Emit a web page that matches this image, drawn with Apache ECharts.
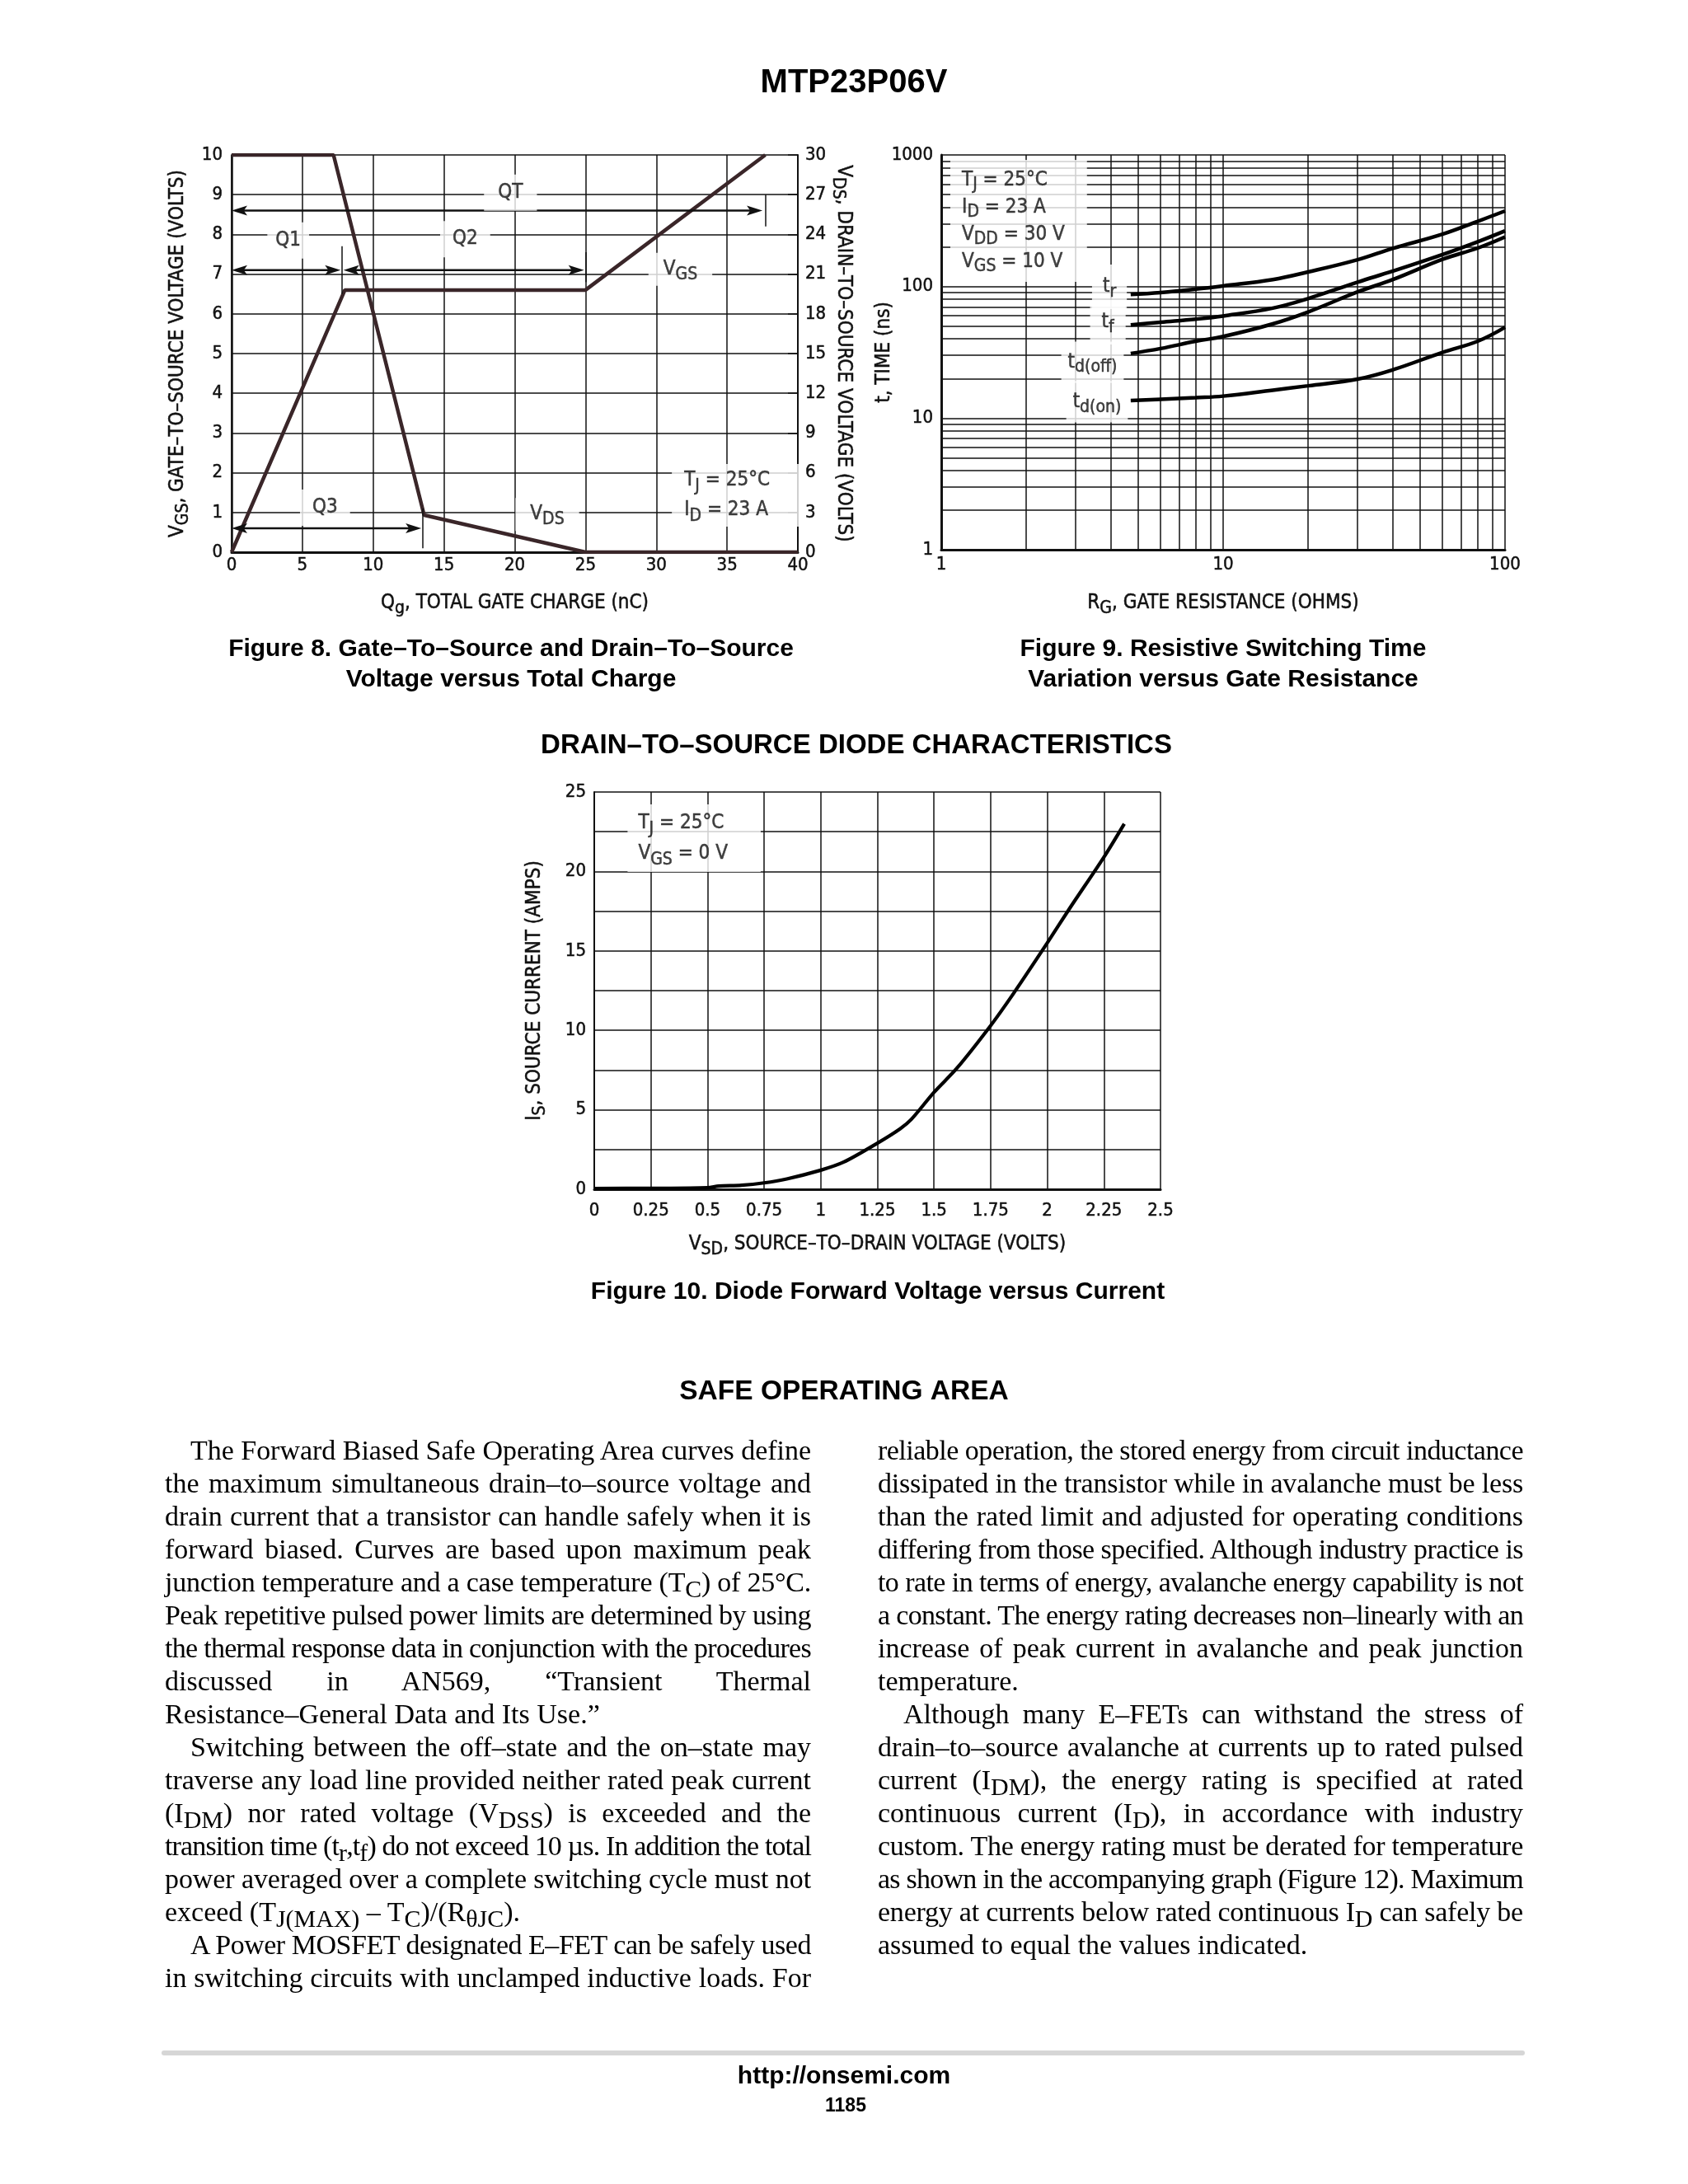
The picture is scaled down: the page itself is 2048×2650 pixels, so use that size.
<!DOCTYPE html>
<html><head><meta charset="utf-8">
<script src="https://cdn.jsdelivr.net/npm/echarts@6/dist/echarts.min.js"></script>
<style>
html,body{margin:0;padding:0;background:#fff;}
#chart{position:absolute;left:0;top:0;width:2048px;height:2650px;}
.col{position:absolute;font-family:"Liberation Serif","Times New Roman",serif;font-size:34px;color:#000;}
.ln{height:40px;line-height:40px;white-space:nowrap;}
.ln.ind{padding-left:31px;}
.sub{font-size:0.88em;vertical-align:-0.22em;line-height:0;}
</style></head><body>
<div id="chart"></div>
<div class="col" id="colL" style="left:200px;top:1740px;width:784px;"></div>
<div class="col" id="colR" style="left:1065px;top:1740px;width:783px;"></div>
<script>
// ---------------- DATA ----------------
// Figure 8 : Qg (nC) vs VGS (V, left axis) and VDS (V, right axis)
const fig8VGS = [[0, 0], [8.0, 6.6], [25.0, 6.6], [37.7, 10]];
const fig8VDS = [[0, 30], [7.2, 30], [13.6, 2.8], [25.0, 0], [40, 0]];
// dimension arrows [from nC, to nC, at VGS]
const fig8Arrows = [[0, 37.5, 8.6], [0, 7.7, 7.1], [7.9, 24.9, 7.1], [0, 13.4, 0.6]];
// end ticks [at nC, from VGS, to VGS]
const fig8Ticks = [[37.7, 8.2, 9.0], [7.8, 6.5, 7.7], [25.0, 6.8, 7.55], [13.5, 0.1, 1.1]];
const fig8Labels = [
  {at: [19.7, 9.05], text: '{n|QT}'},
  {at: [4.0, 7.85], text: '{n|Q1}'},
  {at: [16.5, 7.88], text: '{n|Q2}'},
  {at: [6.6, 1.12], text: '{n|Q3}'},
  {at: [31.7, 7.12], text: '{n|V}{s|GS}'},
  {at: [22.3, 0.95], text: '{n|V}{s|DS}'}
];
const fig8Cond = {at: [31.1, 1.43], lines: ['{n|T}{s|J}{n| = 25°C}', '{n|I}{s|D}{n| = 23 A}']};

// Figure 9 : RG (ohms) vs t (ns)
const fig9Tr    = [[4.7, 87], [6, 90], [8, 95.5], [10, 101], [15, 113], [20, 129], [30, 160], [40, 195], [60, 250], [80, 313], [100, 375]];
const fig9Tf    = [[4.7, 51], [6, 53.5], [8, 56.5], [10, 59.7], [15, 68.5], [20, 81], [30, 108], [40, 131], [60, 175], [80, 219], [100, 265]];
const fig9Tdoff = [[4.7, 31], [6, 33.8], [8, 38.4], [10, 41.7], [15, 52], [20, 64], [30, 91], [40, 113], [60, 161], [80, 196], [100, 238]];
const fig9Tdon  = [[4.7, 13.6], [6, 13.9], [8, 14.3], [10, 14.7], [15, 16.3], [20, 17.6], [30, 19.8], [40, 23.3], [60, 31.6], [80, 38.4], [100, 49]];
const fig9MinorR = [2, 3, 4, 5, 6, 7, 8, 9, 20, 30, 40, 50, 60, 70, 80, 90];
const fig9MinorT = [2, 3, 4, 5, 6, 7, 8, 9, 20, 30, 40, 50, 60, 70, 80, 90, 200, 300, 400, 500, 600, 700, 800, 900];
const fig9Labels = [
  {at: [3.95, 99.6], text: '{n|t}{s|r}'},
  {at: [3.9, 53.6], text: '{n|t}{s|f}'},
  {at: [3.44, 26.6], text: '{n|t}{s|d(off)}'},
  {at: [3.57, 13.3], text: '{n|t}{s|d(on)}'}
];
const fig9Cond = {at: [1.077, 315.6], lines: ['{n|T}{s|J}{n| = 25°C}', '{n|I}{s|D}{n| = 23 A}', '{n|V}{s|DD}{n| = 30 V}', '{n|V}{s|GS}{n| = 10 V}']};

// Figure 10 : VSD (V) vs IS (A)
const fig10Curve = [[0, 0.05], [0.25, 0.06], [0.5, 0.1], [0.55, 0.2], [0.65, 0.25], [0.75, 0.4], [0.85, 0.65], [1.0, 1.2], [1.1, 1.7], [1.25, 2.9], [1.35, 3.8], [1.4, 4.4], [1.5, 6.1], [1.6, 7.6], [1.75, 10.3], [1.85, 12.3], [2.0, 15.5], [2.1, 17.7], [2.25, 20.9], [2.34, 23.0]];
const fig10Cond = {at: [0.147, 22.1], lines: ['{n|T}{s|J}{n| = 25°C}', '{n|V}{s|GS}{n| = 0 V}']};

// Body text
const textLeft = [
  {i: 1, t: 'The Forward Biased Safe Operating Area curves define'},
  {t: 'the maximum simultaneous drain–to–source voltage and'},
  {t: 'drain current that a transistor can handle safely when it is'},
  {t: 'forward biased. Curves are based upon maximum peak'},
  {t: 'junction temperature and a case temperature (T<span class="sub">C</span>) of 25°C.'},
  {t: 'Peak repetitive pulsed power limits are determined by using'},
  {t: 'the thermal response data in conjunction with the procedures'},
  {t: 'discussed in AN569, “Transient Thermal'},
  {e: 1, t: 'Resistance–General Data and Its Use.”'},
  {i: 1, t: 'Switching between the off–state and the on–state may'},
  {t: 'traverse any load line provided neither rated peak current'},
  {t: '(I<span class="sub">DM</span>) nor rated voltage (V<span class="sub">DSS</span>) is exceeded and the'},
  {t: 'transition time (t<span class="sub">r</span>,t<span class="sub">f</span>) do not exceed 10 µs. In addition the total'},
  {t: 'power averaged over a complete switching cycle must not'},
  {e: 1, t: 'exceed (T<span class="sub">J(MAX)</span> – T<span class="sub">C</span>)/(R<span class="sub">θJC</span>).'},
  {i: 1, t: 'A Power MOSFET designated E–FET can be safely used'},
  {t: 'in switching circuits with unclamped inductive loads. For'}
];
const textRight = [
  {t: 'reliable operation, the stored energy from circuit inductance'},
  {t: 'dissipated in the transistor while in avalanche must be less'},
  {t: 'than the rated limit and adjusted for operating conditions'},
  {t: 'differing from those specified. Although industry practice is'},
  {t: 'to rate in terms of energy, avalanche energy capability is not'},
  {t: 'a constant. The energy rating decreases non–linearly with an'},
  {t: 'increase of peak current in avalanche and peak junction'},
  {e: 1, t: 'temperature.'},
  {i: 1, t: 'Although many E–FETs can withstand the stress of'},
  {t: 'drain–to–source avalanche at currents up to rated pulsed'},
  {t: 'current (I<span class="sub">DM</span>), the energy rating is specified at rated'},
  {t: 'continuous current (I<span class="sub">D</span>), in accordance with industry'},
  {t: 'custom. The energy rating must be derated for temperature'},
  {t: 'as shown in the accompanying graph (Figure 12). Maximum'},
  {t: 'energy at currents below rated continuous I<span class="sub">D</span> can safely be'},
  {e: 1, t: 'assumed to equal the values indicated.'}
];

// ---------------- STYLE / LAYOUT ----------------
const INK = '#111';
const CURVE8 = '#3a2629';
const NARROW = '"Liberation Sans Narrow","Arial Narrow","DejaVu Sans Condensed",sans-serif';
const BOLD = '"Liberation Sans",Arial,Helvetica,sans-serif';
const TB = {textBorderColor: INK, textBorderWidth: 0.5};

function rich(fs, L, off) {
  return {
    n: Object.assign({fontFamily: NARROW, fontSize: fs, lineHeight: L, color: INK}, TB),
    s: Object.assign({fontFamily: NARROW, fontSize: Math.round(fs * 0.88), lineHeight: L - 2 * off, verticalAlign: 'bottom', color: INK}, TB)
  };
}
const R_NAME = rich(24, 34, 6);
function nameStyle() { return Object.assign({rich: R_NAME, fontFamily: NARROW, fontSize: 24, color: INK}, TB); }
const tickLabel = (m, extra) => Object.assign({fontFamily: NARROW, fontSize: 22, color: INK, margin: m}, TB, extra || {});
const grid = (w) => ({show: true, lineStyle: {color: INK, width: w}});

function labelSeries(xi, yi, items, pads, R) {
  return {
    type: 'scatter', xAxisIndex: xi, yAxisIndex: yi, symbolSize: 1, silent: true, z: 20,
    itemStyle: {color: 'rgba(0,0,0,0)'},
    data: items.map((it, k) => ({
      value: it.at,
      label: {show: true, position: 'inside', formatter: it.text, align: 'center', verticalAlign: 'middle',
        backgroundColor: '#fff', padding: pads[k], rich: R, fontFamily: NARROW, fontSize: 24, color: INK}
    }))
  };
}
function condSeries(xi, yi, cond, pad, R) {
  return {
    type: 'scatter', xAxisIndex: xi, yAxisIndex: yi, symbolSize: 1, silent: true, z: 20,
    itemStyle: {color: 'rgba(0,0,0,0)'},
    data: [{value: cond.at, label: {show: true, position: 'inside', formatter: cond.lines.join('\n'),
      align: 'left', verticalAlign: 'middle', backgroundColor: '#fff', padding: pad, rich: R,
      fontFamily: NARROW, fontSize: 24, color: INK}}]
  };
}

const arrowSeries = {
  type: 'custom', xAxisIndex: 0, yAxisIndex: 0, z: 8, silent: true,
  encode: {x: [0, 1], y: 2},
  data: fig8Arrows,
  renderItem: function (params, api) {
    const p1 = api.coord([api.value(0), api.value(2)]);
    const p2 = api.coord([api.value(1), api.value(2)]);
    const L = 19, H = 6;
    return {type: 'group', children: [
      {type: 'line', shape: {x1: p1[0] + L * 0.7, y1: p1[1], x2: p2[0] - L * 0.7, y2: p2[1]}, style: {stroke: INK, lineWidth: 2.5}},
      {type: 'polygon', shape: {points: [[p1[0], p1[1]], [p1[0] + L, p1[1] - H], [p1[0] + L * 0.78, p1[1]], [p1[0] + L, p1[1] + H]]}, style: {fill: INK}},
      {type: 'polygon', shape: {points: [[p2[0], p2[1]], [p2[0] - L, p2[1] - H], [p2[0] - L * 0.78, p2[1]], [p2[0] - L, p2[1] + H]]}, style: {fill: INK}}
    ]};
  }
};
const tickSeries = {
  type: 'lines', coordinateSystem: 'cartesian2d', xAxisIndex: 0, yAxisIndex: 0, z: 8, silent: true,
  symbol: ['none', 'none'], lineStyle: {color: INK, width: 1.5, opacity: 1},
  data: fig8Ticks.map(t => ({coords: [[t[0], t[1]], [t[0], t[2]]]}))
};

const pageTexts = [
  ['MTP23P06V', 1036, 101, 40],
  ['Figure 8. Gate–To–Source and Drain–To–Source', 620, 788, 30],
  ['Voltage versus Total Charge', 620, 825, 30],
  ['Figure 9. Resistive Switching Time', 1484, 788, 30],
  ['Variation versus Gate Resistance', 1484, 825, 30],
  ['DRAIN–TO–SOURCE DIODE CHARACTERISTICS', 1039, 905, 33],
  ['Figure 10. Diode Forward Voltage versus Current', 1065, 1568, 30],
  ['SAFE OPERATING AREA', 1024, 1689, 33.5],
  ['http://onsemi.com', 1024, 2520, 30],
  ['1185', 1026, 2556, 23]
];

const curve9 = (d) => ({type: 'line', xAxisIndex: 1, yAxisIndex: 2, data: d, symbol: 'none', smooth: 0.4,
  z: 6, lineStyle: {color: '#000', width: 4.5}, silent: true});

const chart = echarts.init(document.getElementById('chart'), null, {renderer: 'canvas', width: 2048, height: 2650});
const option = {
  animation: false,
  backgroundColor: '#fff',
  textStyle: {fontFamily: NARROW, color: INK},
  grid: [
    {left: 281, top: 188, width: 687, height: 482},
    {left: 1142, top: 188, width: 684, height: 479},
    {left: 721, top: 961, width: 687, height: 482}
  ],
  xAxis: [
    {gridIndex: 0, type: 'value', min: 0, max: 40, interval: 5,
      axisLine: {onZero: false, lineStyle: {color: INK, width: 3}}, axisTick: {show: false},
      axisLabel: tickLabel(5), splitLine: grid(1.5),
      name: '{n|Q}{s|g}{n|, TOTAL GATE CHARGE (nC)}', nameLocation: 'middle', nameGap: 45, nameMoveOverlap: false, nameTextStyle: nameStyle()},
    {gridIndex: 1, type: 'log', logBase: 10, min: 1, max: 100,
      axisLine: {onZero: false, lineStyle: {color: INK, width: 3}}, axisTick: {show: false},
      axisLabel: tickLabel(7, {formatter: v => String(Math.round(v))}), splitLine: grid(1.5), minorSplitLine: {show: false},
      name: '{n|R}{s|G}{n|, GATE RESISTANCE (OHMS)}', nameLocation: 'middle', nameGap: 48, nameMoveOverlap: false, nameTextStyle: nameStyle()},
    {gridIndex: 2, type: 'value', min: 0, max: 2.5, interval: 0.25,
      axisLine: {onZero: false, lineStyle: {color: INK, width: 3}}, axisTick: {show: false},
      axisLabel: tickLabel(15), splitLine: grid(1.5),
      name: '{n|V}{s|SD}{n|, SOURCE–TO–DRAIN VOLTAGE (VOLTS)}', nameLocation: 'middle', nameGap: 50, nameMoveOverlap: false, nameTextStyle: nameStyle()}
  ],
  yAxis: [
    {gridIndex: 0, type: 'value', min: 0, max: 10, interval: 1, position: 'left',
      axisLine: {show: true, onZero: false, lineStyle: {color: INK, width: 2.5}}, axisTick: {show: false},
      axisLabel: tickLabel(11), splitLine: grid(1.5),
      name: '{n|V}{s|GS}{n|, GATE–TO–SOURCE VOLTAGE (VOLTS)}', nameLocation: 'middle', nameRotate: 90, nameGap: 48, nameMoveOverlap: false, nameTextStyle: nameStyle()},
    {gridIndex: 0, type: 'value', min: 0, max: 30, interval: 3, position: 'right',
      axisLine: {show: true, onZero: false, lineStyle: {color: INK, width: 2}},
      axisTick: {show: true, inside: true, length: 12, lineStyle: {color: INK, width: 1.5}},
      axisLabel: tickLabel(9), splitLine: {show: false},
      name: '{n|V}{s|DS}{n|, DRAIN–TO–SOURCE VOLTAGE (VOLTS)}', nameLocation: 'middle', nameRotate: -90, nameGap: 38, nameMoveOverlap: false, nameTextStyle: nameStyle()},
    {gridIndex: 1, type: 'log', logBase: 10, min: 1, max: 1000, position: 'left',
      axisLine: {show: true, onZero: false, lineStyle: {color: INK, width: 3}}, axisTick: {show: false},
      axisLabel: tickLabel(10, {formatter: v => String(Math.round(v))}), splitLine: grid(1.5),
      name: '{n|t, TIME (ns)}', nameLocation: 'middle', nameRotate: 90, nameGap: 52, nameMoveOverlap: false, nameTextStyle: nameStyle()},
    {gridIndex: 2, type: 'value', min: 0, max: 25, interval: 2.5, position: 'left',
      axisLine: {show: true, onZero: false, lineStyle: {color: INK, width: 2}}, axisTick: {show: false},
      axisLabel: tickLabel(10, {formatter: v => (Math.abs(v % 5) < 1e-9 ? String(v) : '')}), splitLine: grid(1.5),
      name: '{n|I}{s|S}{n|, SOURCE CURRENT (AMPS)}', nameLocation: 'middle', nameRotate: 90, nameGap: 55, nameMoveOverlap: false, nameTextStyle: nameStyle()}
  ],
  series: [
    // Figure 8
    {type: 'line', xAxisIndex: 0, yAxisIndex: 0, data: fig8VGS, symbol: 'none', z: 6,
      lineStyle: {color: CURVE8, width: 4.5}, silent: true},
    {type: 'line', xAxisIndex: 0, yAxisIndex: 1, data: fig8VDS, symbol: 'none', z: 6,
      lineStyle: {color: CURVE8, width: 4.5}, silent: true},
    arrowSeries,
    tickSeries,
    labelSeries(0, 0, fig8Labels, [[5, 17], [5, 10], [5, 15], [5, 15], [3, 18], [3, 18]], rich(24, 34, 6)),
    condSeries(0, 0, fig8Cond, [2, 36, 2, 15], rich(24, 36, 6)),
    // Figure 9 minor grid
    {type: 'line', xAxisIndex: 1, yAxisIndex: 2, data: [], z: 1, silent: true,
      markLine: {silent: true, symbol: ['none', 'none'], label: {show: false}, animation: false,
        lineStyle: {color: INK, width: 1.5, type: 'solid'}, emphasis: {disabled: true},
        data: fig9MinorR.map(v => ({xAxis: v})).concat(fig9MinorT.map(v => ({yAxis: v})))}},
    curve9(fig9Tr),
    curve9(fig9Tf),
    curve9(fig9Tdoff),
    curve9(fig9Tdon),
    labelSeries(1, 2, fig9Labels, [[10, 13], [10, 14], [8, 8], [8, 8]], rich(24, 34, 6)),
    condSeries(1, 2, fig9Cond, [8, 27, 8, 14], rich(24, 33, 6)),
    // Figure 10
    {type: 'line', xAxisIndex: 2, yAxisIndex: 3, data: fig10Curve, symbol: 'none', smooth: 0.3, z: 6, lineStyle: {color: '#000', width: 4.2}, silent: true},
    condSeries(2, 3, fig10Cond, [4, 40, 4, 13], rich(24, 37, 6))
  ],
  graphic: pageTexts.map(p => ({
    type: 'text', x: p[1], y: p[2], silent: true,
    style: {text: p[0], fontFamily: BOLD, fontWeight: 'bold', fontSize: p[3], fill: '#000',
      align: 'center', verticalAlign: 'middle', textAlign: 'center', textVerticalAlign: 'middle'}
  })).concat([{type: 'line', silent: true, shape: {x1: 199, y1: 2491, x2: 1847, y2: 2491},
    style: {stroke: '#d6d6d6', lineWidth: 6, lineCap: 'round'}}])
};
chart.setOption(option);

// ---------------- BODY TEXT ----------------
function buildCol(id, lines) {
  const col = document.getElementById(id);
  lines.forEach(l => {
    const d = document.createElement('div');
    d.className = 'ln' + (l.i ? ' ind' : '') + (l.e ? ' last' : '');
    d.innerHTML = '<span class="t">' + l.t + '</span>';
    col.appendChild(d);
  });
}
buildCol('colL', textLeft);
buildCol('colR', textRight);
function fitLines() {
  document.querySelectorAll('.ln').forEach(ln => {
    const sp = ln.querySelector('span.t');
    sp.style.letterSpacing = '0px'; sp.style.wordSpacing = '0px';
    const W = ln.parentNode.clientWidth - (ln.classList.contains('ind') ? 31 : 0);
    const w = sp.getBoundingClientRect().width;
    const txt = sp.textContent;
    if (w > W) {
      sp.style.letterSpacing = ((W - w) / txt.length) + 'px';
    } else if (!ln.classList.contains('last')) {
      const n = (txt.match(/ /g) || []).length;
      if (n) sp.style.wordSpacing = ((W - w) / n) + 'px';
    }
  });
}
fitLines();
if (document.fonts && document.fonts.ready) document.fonts.ready.then(fitLines);
</script>
</body></html>
